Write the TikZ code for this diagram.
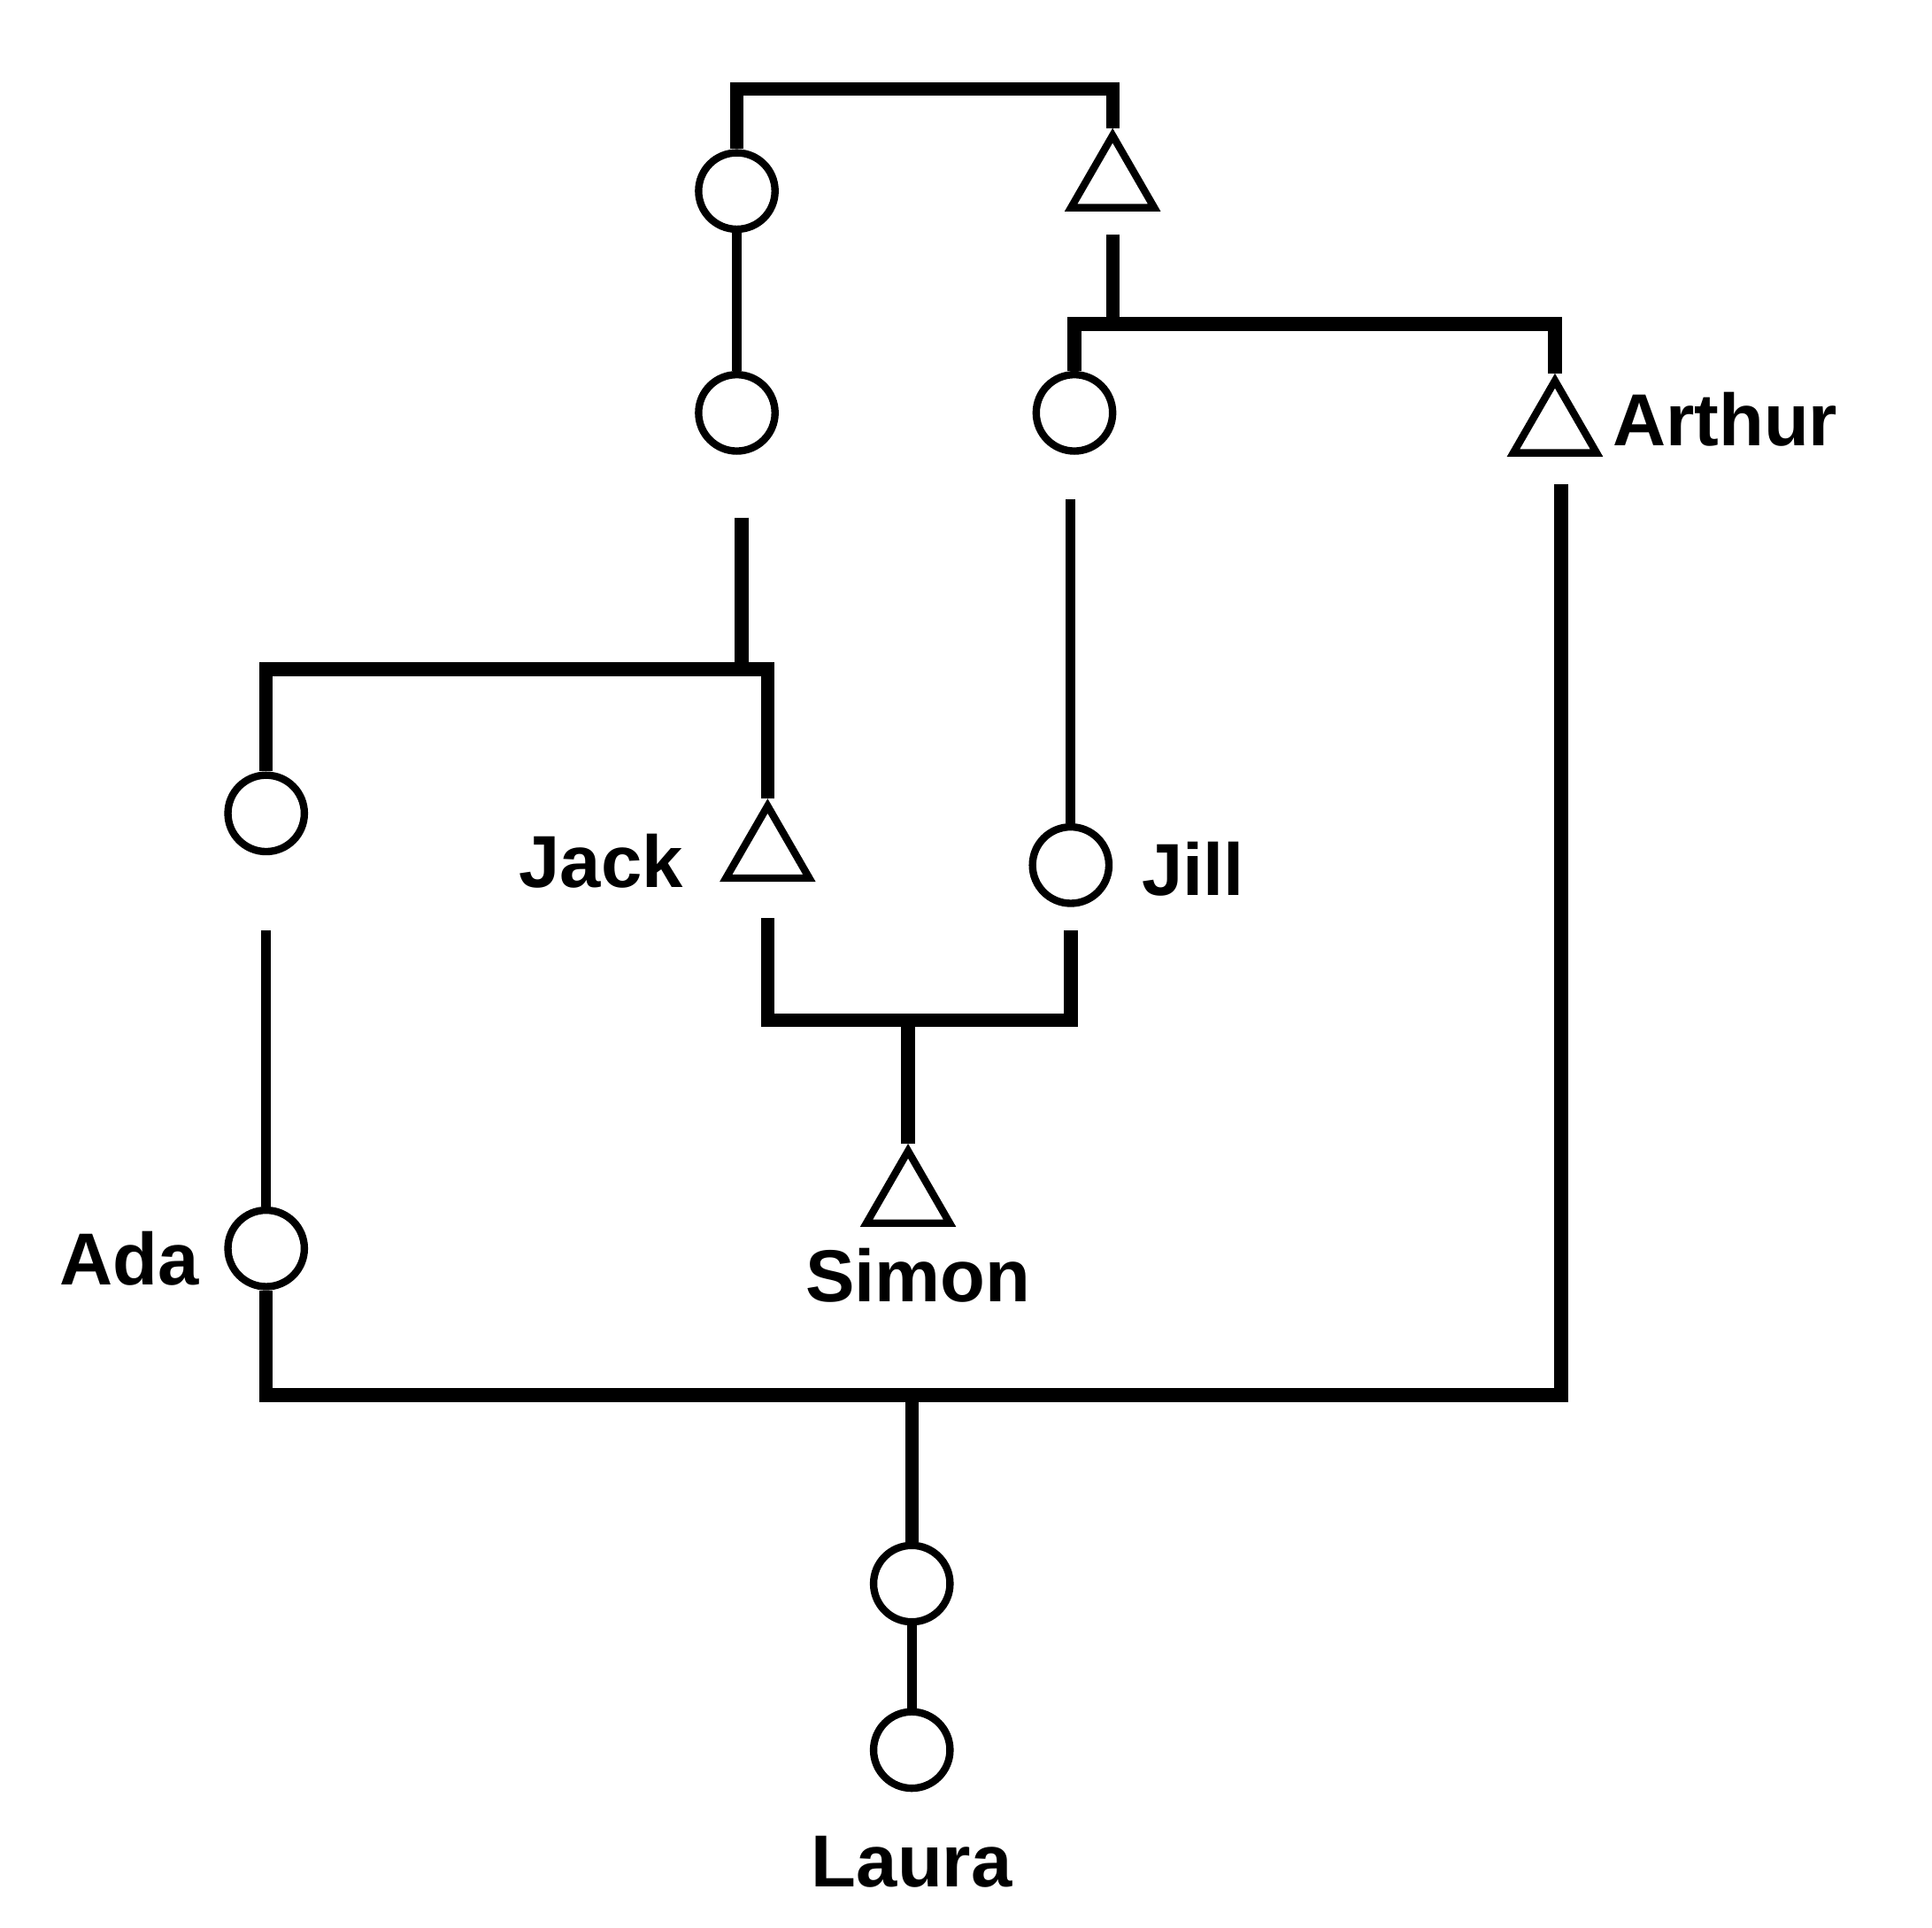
\documentclass[tikz,border=0pt]{standalone}
\usepackage{fontspec}
\setmainfont{Liberation Sans}
\usetikzlibrary{positioning,shapes.geometric}

\begin{document}
\begin{tikzpicture}[
  x=0.01cm,y=-0.01cm,
  fem/.style={circle,draw,line width=0.06cm,minimum size=0.62cm,inner sep=0pt},
  mal/.style={regular polygon,regular polygon sides=3,draw,line width=0.06cm,minimum size=0.78cm,inner sep=0pt},
  kin/.style={line width=0.11cm},
  kin2/.style={line width=0.08cm},
  lbl/.style={font=\fontsize{17}{20}\selectfont\bfseries,inner sep=0pt}
]
\useasboundingbox (0,0) rectangle (1568,1564);
\node[fem] (gm) at (598,155) {};
\node[mal] (gf) at (903,149) {};
\node[fem] (ma) at (598,335) {};
\node[fem] (jm) at (872,335) {};
\node[mal] (arthur) at (1262,348) {};
\node[fem] (am) at (216,660) {};
\node[mal] (jack) at (623,693) {};
\node[fem] (jill) at (869,702) {};
\node[mal] (simon) at (737,973) {};
\node[fem] (ada) at (216,1013) {};
\node[fem] (mo) at (740,1285) {};
\node[fem] (laura) at (740,1420) {};
\node[lbl,right=0.2cm of arthur,yshift=0.08cm] (arthur-l) {Arthur};
\node[lbl,left=0.42cm of jack,yshift=-0.06cm] (jack-l) {Jack};
\node[lbl,right=0.23cm of jill,yshift=-0.03cm] (jill-l) {Jill};
\node[lbl,left=0.2cm of ada,yshift=-0.08cm] (ada-l) {Ada};
\node[lbl,below=0.17cm of simon,xshift=0.08cm] (simon-l) {Simon};
\node[lbl,below=0.35cm of laura] (laura-l) {Laura};
\coordinate (c1) at (750,72);
\coordinate (gf-d) at (903,190);
\coordinate (c2) at (903,263);
\coordinate (ma-d) at (602,420);
\coordinate (c3) at (602,543);
\coordinate (jm-d) at (869,405);
\coordinate (am-d) at (216,755);
\coordinate (jack-d) at (623,745);
\coordinate (jill-d) at (869,755);
\coordinate (c4) at (737,828);
\coordinate (arthur-d) at (1267,393);
\coordinate (c5) at (740,1132);
\draw[kin] (gm.north) |- (c1) -| (gf.north);
\draw[kin2] (gm) -- (ma);
\draw[kin] (gf-d) -- (c2);
\draw[kin] (jm.north) |- (c2) -| (arthur.north);
\draw[kin] (ma-d) -- (c3);
\draw[kin] (am.north) |- (c3) -| (jack.north);
\draw[kin2] (jm-d) -- (jill.north);
\draw[kin2] (am-d) -- (ada.north);
\draw[kin] (jack-d) |- (c4) -| (jill-d);
\draw[kin] (c4) -- (simon.north);
\draw[kin] (ada.south) |- (c5) -| (arthur-d);
\draw[kin] (c5) -- (mo.north);
\draw[kin2] (mo) -- (laura);
\end{tikzpicture}
\end{document}
